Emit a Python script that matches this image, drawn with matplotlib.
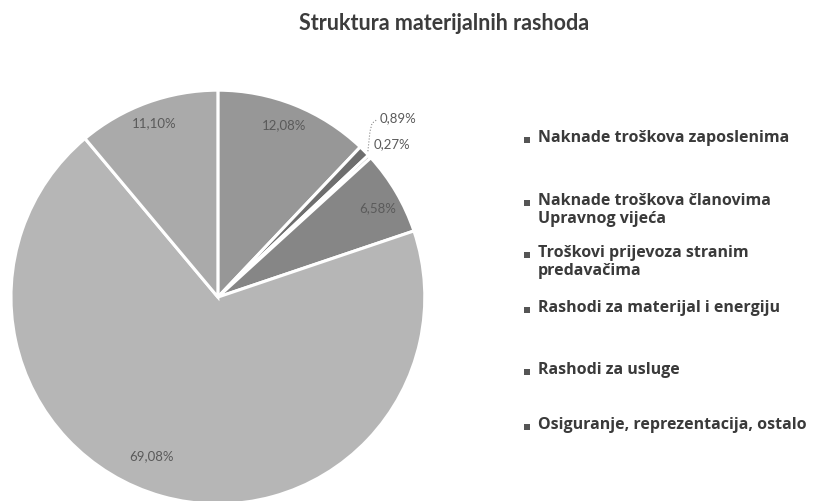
import matplotlib.pyplot as plt
from matplotlib.patches import Rectangle

plt.rcParams['font.family'] = ['Lato', 'DejaVu Sans']

categories = ['Naknade troškova zaposlenima',
              'Naknade troškova članovima\nUpravnog vijeća',
              'Troškovi prijevoza stranim\npredavačima',
              'Rashodi za materijal i energiju',
              'Rashodi za usluge',
              'Osiguranje, reprezentacija, ostalo']
values = [12.08, 0.89, 0.27, 6.58, 69.08, 11.10]
labels = ['12,08%', '0,89%', '0,27%', '6,58%', '69,08%', '11,10%']
colors = ['#979797', '#6e6e6e', '#8a8a8a', '#868686', '#b6b6b6', '#aaaaaa']

fig = plt.figure(figsize=(8.13, 5.01), dpi=100)
ax = fig.add_axes([0.0135, -0.006, 0.509, 0.826])
wedges, _ = ax.pie(values, colors=colors, startangle=90, counterclock=False,
                   wedgeprops=dict(edgecolor='white', linewidth=2.2))
ax.set_aspect('equal')
ax.set_xlim(-1, 1)
ax.set_ylim(-1, 1)

# data labels (positions in axes data units)
label_pos = [(0.32, 0.83), (0.87, 0.865), (0.84, 0.74), (0.77, 0.43),
             (-0.32, -0.77), (-0.31, 0.84)]
for (x, y), t in zip(label_pos, labels):
    ax.text(x, y, t, fontsize=9.5, color='#5a5a5a', ha='center', va='center')
ax.plot([0.765, 0.745, 0.735, 0.725], [0.855, 0.84, 0.80, 0.705],
        color='#8a8a8a', lw=0.8, ls=':')

fig.text(444 / 813, 1 - 23 / 501, 'Struktura materijalnih rashoda',
         ha='center', va='center', fontsize=15.5, fontweight='bold',
         color='#3c3c3c')

legend_y = [140, 203, 255, 310, 372, 427]
for c, t, y in zip(colors, categories, legend_y):
    fy = 1 - y / 501
    fig.patches.append(Rectangle((524 / 813, fy - 3 / 501), 6 / 813, 6 / 501,
                                 transform=fig.transFigure, facecolor='#555555',
                                 edgecolor='none'))
    fig.text(538 / 813, 1 - (y - 10) / 501, t, ha='left', va='top',
             fontsize=11.5, fontweight='bold', color='#3a3a3a',
             linespacing=1.2, family=['Open Sans', 'DejaVu Sans'])

fig.savefig('out.png', dpi=100)
